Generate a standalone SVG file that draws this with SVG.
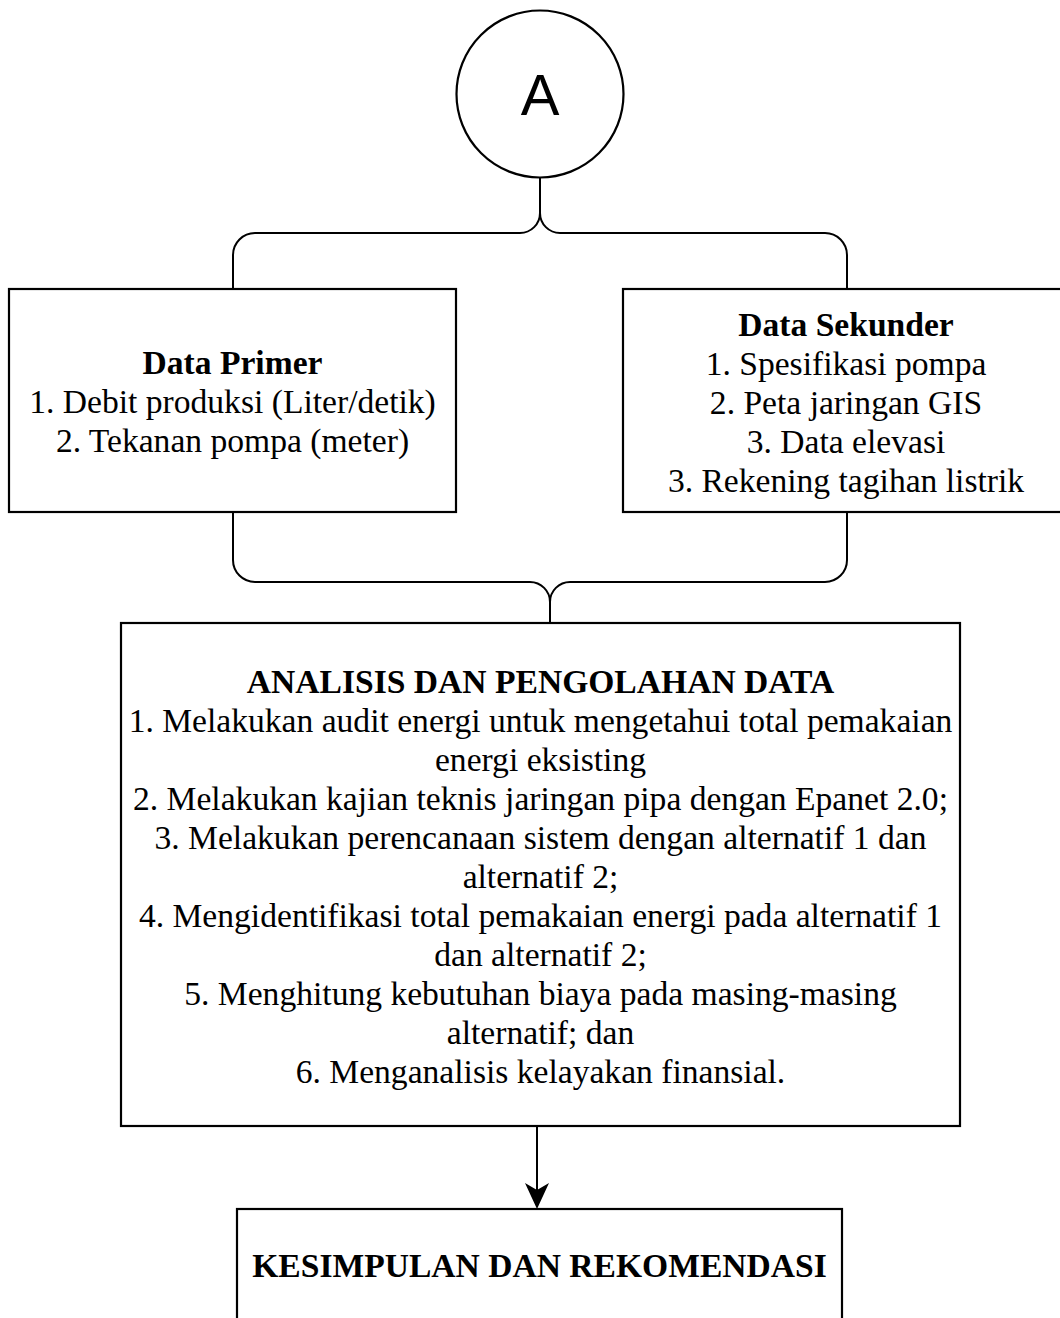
<svg xmlns="http://www.w3.org/2000/svg" width="1060" height="1318" viewBox="0 0 1060 1318">
<defs>
<style>
.box{fill:#fff;stroke:#000;stroke-width:2.2}
.ln{fill:none;stroke:#000;stroke-width:2}
.t{font-family:"Liberation Serif","Times New Roman",serif;font-size:33.6px;fill:#000;text-anchor:middle}
.b{font-weight:bold}
</style>
</defs>
<rect width="1060" height="1318" fill="#fff"/>
<g id="connectors">
<path class="ln" d="M540 177 V213 A20 20 0 0 1 520 233 H255 A22 22 0 0 0 233 255 V289"/>
<path class="ln" d="M540 213 A20 20 0 0 0 560 233 H825 A22 22 0 0 1 847 255 V289"/>
<path class="ln" d="M233 512 V560 A22 22 0 0 0 255 582 H530 A20 20 0 0 1 550 602 V623"/>
<path class="ln" d="M847 512 V560 A22 22 0 0 1 825 582 H570 A20 20 0 0 0 550 602"/>
<path class="ln" d="M537 1126 V1190"/>
<path d="M537 1209 L525 1183 L537 1190 L549 1183 Z" fill="#000"/>
</g>
<g id="nodeA">
<circle cx="540" cy="94" r="83.5" fill="#fff" stroke="#000" stroke-width="2.2"/>
<text x="540" y="115" text-anchor="middle" font-family="Liberation Sans, Arial, sans-serif" font-size="58">A</text>
</g>
<g id="dataPrimer">
<rect class="box" x="9" y="289" width="447" height="223"/>
<text class="t b" x="232.5" y="374">Data Primer</text>
<text class="t" x="232.5" y="413">1. Debit produksi (Liter/detik)</text>
<text class="t" x="232.5" y="452">2. Tekanan pompa (meter)</text>
</g>
<g id="dataSekunder">
<rect class="box" x="623" y="289" width="447" height="223"/>
<text class="t b" x="846" y="336">Data Sekunder</text>
<text class="t" x="846" y="375">1. Spesifikasi pompa</text>
<text class="t" x="846" y="414">2. Peta jaringan GIS</text>
<text class="t" x="846" y="453">3. Data elevasi</text>
<text class="t" x="846" y="492">3. Rekening tagihan listrik</text>
</g>
<g id="analisis">
<rect class="box" x="121" y="623" width="839" height="503"/>
<text class="t b" x="540.5" y="693">ANALISIS DAN PENGOLAHAN DATA</text>
<text class="t" x="540.5" y="732">1. Melakukan audit energi untuk mengetahui total pemakaian</text>
<text class="t" x="540.5" y="771">energi eksisting</text>
<text class="t" x="540.5" y="810">2. Melakukan kajian teknis jaringan pipa dengan Epanet 2.0;</text>
<text class="t" x="540.5" y="849">3. Melakukan perencanaan sistem dengan alternatif 1 dan</text>
<text class="t" x="540.5" y="888">alternatif 2;</text>
<text class="t" x="540.5" y="927">4. Mengidentifikasi total pemakaian energi pada alternatif 1</text>
<text class="t" x="540.5" y="966">dan alternatif 2;</text>
<text class="t" x="540.5" y="1005">5. Menghitung kebutuhan biaya pada masing-masing</text>
<text class="t" x="540.5" y="1044">alternatif; dan</text>
<text class="t" x="540.5" y="1083">6. Menganalisis kelayakan finansial.</text>
</g>
<g id="kesimpulan">
<rect class="box" x="237" y="1209" width="605" height="140"/>
<text class="t b" x="539.5" y="1277">KESIMPULAN DAN REKOMENDASI</text>
</g>
</svg>
